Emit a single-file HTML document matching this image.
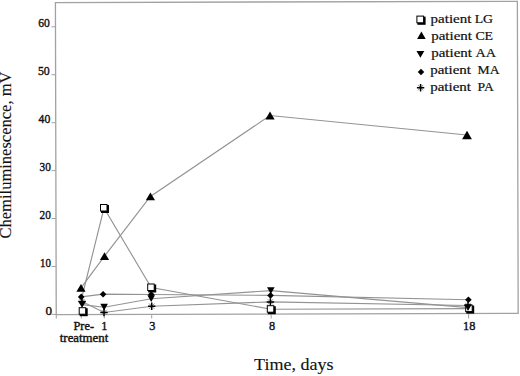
<!DOCTYPE html>
<html><head><meta charset="utf-8"><style>
html,body{margin:0;padding:0;background:#fff;}
svg{display:block;}
text{font-family:"Liberation Serif",serif;fill:#111;stroke:#111;stroke-width:0.35px;}
.tk{font-size:13.1px;stroke-width:0.4px;}
.xt{font-size:12.3px;stroke-width:0.38px;}
.lg{font-size:13.4px;stroke-width:0.22px;}
.ttl{font-size:17px;stroke-width:0.12px;}
</style></head><body>
<svg width="520" height="376" viewBox="0 0 520 376">
<rect width="520" height="376" fill="#fff"/>
<rect x="55.9" y="1.93" width="461.95" height="312.11" fill="none" stroke="#a2a2a2" stroke-width="1.3" transform="rotate(-0.149 286 188)"/>
<line x1="51.5" y1="314.40" x2="56.23" y2="314.40" stroke="#a2a2a2" stroke-width="1"/>
<text x="52.1" y="314.60" text-anchor="end" class="tk">0</text>
<line x1="51.5" y1="266.47" x2="56.10" y2="266.47" stroke="#a2a2a2" stroke-width="1"/>
<text x="50.9" y="266.67" text-anchor="end" class="tk" textLength="10.9" lengthAdjust="spacingAndGlyphs">10</text>
<line x1="51.5" y1="218.54" x2="55.98" y2="218.54" stroke="#a2a2a2" stroke-width="1"/>
<text x="50.8" y="218.74" text-anchor="end" class="tk" textLength="11.3" lengthAdjust="spacingAndGlyphs">20</text>
<line x1="51.5" y1="170.61" x2="55.85" y2="170.61" stroke="#a2a2a2" stroke-width="1"/>
<text x="50.8" y="170.81" text-anchor="end" class="tk" textLength="11.3" lengthAdjust="spacingAndGlyphs">30</text>
<line x1="51.5" y1="122.68" x2="55.73" y2="122.68" stroke="#a2a2a2" stroke-width="1"/>
<text x="50.3" y="122.88" text-anchor="end" class="tk" textLength="11.7" lengthAdjust="spacingAndGlyphs">40</text>
<line x1="51.5" y1="74.75" x2="55.61" y2="74.75" stroke="#a2a2a2" stroke-width="1"/>
<text x="49.7" y="74.95" text-anchor="end" class="tk" textLength="11.8" lengthAdjust="spacingAndGlyphs">50</text>
<line x1="51.5" y1="26.82" x2="55.48" y2="26.82" stroke="#a2a2a2" stroke-width="1"/>
<text x="49.9" y="27.02" text-anchor="end" class="tk" textLength="11.6" lengthAdjust="spacingAndGlyphs">60</text>
<line x1="56.25" y1="314" x2="56.3" y2="318.5" stroke="#a2a2a2" stroke-width="1"/>
<line x1="81.3" y1="314.57" x2="81.3" y2="318.5" stroke="#a2a2a2" stroke-width="1"/>
<line x1="104.3" y1="314.51" x2="104.3" y2="318.5" stroke="#a2a2a2" stroke-width="1"/>
<line x1="151.7" y1="314.39" x2="151.7" y2="318.5" stroke="#a2a2a2" stroke-width="1"/>
<line x1="271.2" y1="314.08" x2="271.2" y2="318.5" stroke="#a2a2a2" stroke-width="1"/>
<line x1="468.6" y1="313.57" x2="468.6" y2="318.5" stroke="#a2a2a2" stroke-width="1"/>
<text x="73.5" y="330" class="xt" textLength="20.5" lengthAdjust="spacingAndGlyphs">Pre-</text>
<text x="59.8" y="341.5" class="xt" textLength="48.5" lengthAdjust="spacingAndGlyphs">treatment</text>
<text x="104.3" y="330" text-anchor="middle" class="xt">1</text>
<text x="152.4" y="330" text-anchor="middle" class="xt">3</text>
<text x="272.2" y="330" text-anchor="middle" class="xt">8</text>
<text x="469.2" y="330" text-anchor="middle" class="xt">18</text>
<text x="254" y="370" class="ttl" textLength="79.5" lengthAdjust="spacingAndGlyphs">Time, days</text>
<text transform="translate(11.4,238.5) rotate(-90)" x="0" y="0" class="ttl" textLength="167" lengthAdjust="spacingAndGlyphs">Chemiluminescence, mV</text>
<polyline points="82.2,296 104,208 151.2,287.5 270.8,309.2 469.2,308.6" fill="none" stroke="#939393" stroke-width="1.15"/>
<polyline points="81,287.8 104.5,256.2 150.4,196.4 270,115.5 467,135" fill="none" stroke="#939393" stroke-width="1.15"/>
<polyline points="82.1,304.6 104.1,307.2 151.2,298.7 270.8,290.6 468,307.6" fill="none" stroke="#939393" stroke-width="1.15"/>
<polyline points="81.2,296.9 103.1,294.2 151.3,294.5 270.5,295.4 468.4,299.8" fill="none" stroke="#939393" stroke-width="1.15"/>
<polyline points="82,301.5 104,312.5 151.7,306.2 270.4,301.9 468,305.5" fill="none" stroke="#939393" stroke-width="1.15"/>
<path d="M79.34,298.84 L84.66,304.16 M84.66,298.84 L79.34,304.16" stroke="#8a8a8a" stroke-width="1" fill="none"/><path d="M78.30,301.50 L85.70,301.50 M82.00,297.80 L82.00,305.20" stroke="#000" stroke-width="1.5" fill="none"/>
<path d="M101.34,309.84 L106.66,315.16 M106.66,309.84 L101.34,315.16" stroke="#8a8a8a" stroke-width="1" fill="none"/><path d="M100.30,312.50 L107.70,312.50 M104.00,308.80 L104.00,316.20" stroke="#000" stroke-width="1.5" fill="none"/>
<path d="M149.04,303.54 L154.36,308.86 M154.36,303.54 L149.04,308.86" stroke="#8a8a8a" stroke-width="1" fill="none"/><path d="M148.00,306.20 L155.40,306.20 M151.70,302.50 L151.70,309.90" stroke="#000" stroke-width="1.5" fill="none"/>
<path d="M267.74,299.24 L273.06,304.56 M273.06,299.24 L267.74,304.56" stroke="#8a8a8a" stroke-width="1" fill="none"/><path d="M266.70,301.90 L274.10,301.90 M270.40,298.20 L270.40,305.60" stroke="#000" stroke-width="1.5" fill="none"/>
<path d="M465.34,302.84 L470.66,308.16 M470.66,302.84 L465.34,308.16" stroke="#8a8a8a" stroke-width="1" fill="none"/><path d="M464.30,305.50 L471.70,305.50 M468.00,301.80 L468.00,309.20" stroke="#000" stroke-width="1.5" fill="none"/>
<rect x="79.70" y="308.20" width="8" height="8" fill="#000"/><rect x="79.20" y="307.70" width="6.5" height="6.5" fill="#fff" stroke="#000" stroke-width="1"/>
<rect x="101.00" y="205.00" width="8" height="8" fill="#000"/><rect x="100.50" y="204.50" width="6.5" height="6.5" fill="#fff" stroke="#000" stroke-width="1"/>
<rect x="148.20" y="284.50" width="8" height="8" fill="#000"/><rect x="147.70" y="284.00" width="6.5" height="6.5" fill="#fff" stroke="#000" stroke-width="1"/>
<rect x="267.80" y="306.20" width="8" height="8" fill="#000"/><rect x="267.30" y="305.70" width="6.5" height="6.5" fill="#fff" stroke="#000" stroke-width="1"/>
<rect x="466.20" y="305.60" width="8" height="8" fill="#000"/><rect x="465.70" y="305.10" width="6.5" height="6.5" fill="#fff" stroke="#000" stroke-width="1"/>
<path d="M78.30,301.20 L85.90,301.20 L82.10,308.00 Z" fill="#000"/>
<path d="M100.30,303.80 L107.90,303.80 L104.10,310.60 Z" fill="#000"/>
<path d="M147.40,295.30 L155.00,295.30 L151.20,302.10 Z" fill="#000"/>
<path d="M267.00,287.20 L274.60,287.20 L270.80,294.00 Z" fill="#000"/>
<path d="M464.20,304.20 L471.80,304.20 L468.00,311.00 Z" fill="#000"/>
<path d="M81.20,293.60 L84.50,296.90 L81.20,300.20 L77.90,296.90 Z" fill="#000"/>
<path d="M103.10,290.90 L106.40,294.20 L103.10,297.50 L99.80,294.20 Z" fill="#000"/>
<path d="M151.30,291.20 L154.60,294.50 L151.30,297.80 L148.00,294.50 Z" fill="#000"/>
<path d="M270.50,292.10 L273.80,295.40 L270.50,298.70 L267.20,295.40 Z" fill="#000"/>
<path d="M468.40,296.50 L471.70,299.80 L468.40,303.10 L465.10,299.80 Z" fill="#000"/>
<path d="M81.00,283.90 L85.60,291.70 L76.40,291.70 Z" fill="#000"/>
<path d="M104.50,252.30 L109.10,260.10 L99.90,260.10 Z" fill="#000"/>
<path d="M150.40,192.50 L155.00,200.30 L145.80,200.30 Z" fill="#000"/>
<path d="M270.00,111.60 L274.60,119.40 L265.40,119.40 Z" fill="#000"/>
<path d="M467.00,130.70 L471.90,139.30 L462.10,139.30 Z" fill="#000"/>
<rect x="417.40" y="16.60" width="8.2" height="8.2" fill="#000"/><rect x="416.90" y="16.10" width="6.699999999999999" height="6.699999999999999" fill="#fff" stroke="#000" stroke-width="1"/>
<text x="430.6" y="22.5" class="lg" textLength="40.8" lengthAdjust="spacingAndGlyphs">patient</text>
<text x="474.7" y="22.5" class="lg" textLength="18.4" lengthAdjust="spacingAndGlyphs">LG</text>
<path d="M421.40,31.60 L425.70,39.00 L417.10,39.00 Z" fill="#000"/>
<text x="431.2" y="39.6" class="lg" textLength="40.8" lengthAdjust="spacingAndGlyphs">patient</text>
<text x="475.4" y="39.6" class="lg" textLength="17.7" lengthAdjust="spacingAndGlyphs">CE</text>
<path d="M416.50,51.10 L424.30,51.10 L420.40,57.70 Z" fill="#000"/>
<text x="431.2" y="56.7" class="lg" textLength="40.8" lengthAdjust="spacingAndGlyphs">patient</text>
<text x="475.4" y="56.7" class="lg" textLength="20.6" lengthAdjust="spacingAndGlyphs">AA</text>
<path d="M421.00,68.75 L424.25,72.00 L421.00,75.25 L417.75,72.00 Z" fill="#000"/>
<text x="430.2" y="73.8" class="lg" textLength="40.8" lengthAdjust="spacingAndGlyphs">patient</text>
<text x="477.6" y="73.8" class="lg" textLength="22.0" lengthAdjust="spacingAndGlyphs">MA</text>
<path d="M417.94,85.04 L423.26,90.36 M423.26,85.04 L417.94,90.36" stroke="#8a8a8a" stroke-width="1" fill="none"/><path d="M416.90,87.70 L424.30,87.70 M420.60,84.00 L420.60,91.40" stroke="#000" stroke-width="1.5" fill="none"/>
<text x="430.2" y="90.9" class="lg" textLength="40.8" lengthAdjust="spacingAndGlyphs">patient</text>
<text x="477.6" y="90.9" class="lg" textLength="16.2" lengthAdjust="spacingAndGlyphs">PA</text>
</svg>
</body></html>
